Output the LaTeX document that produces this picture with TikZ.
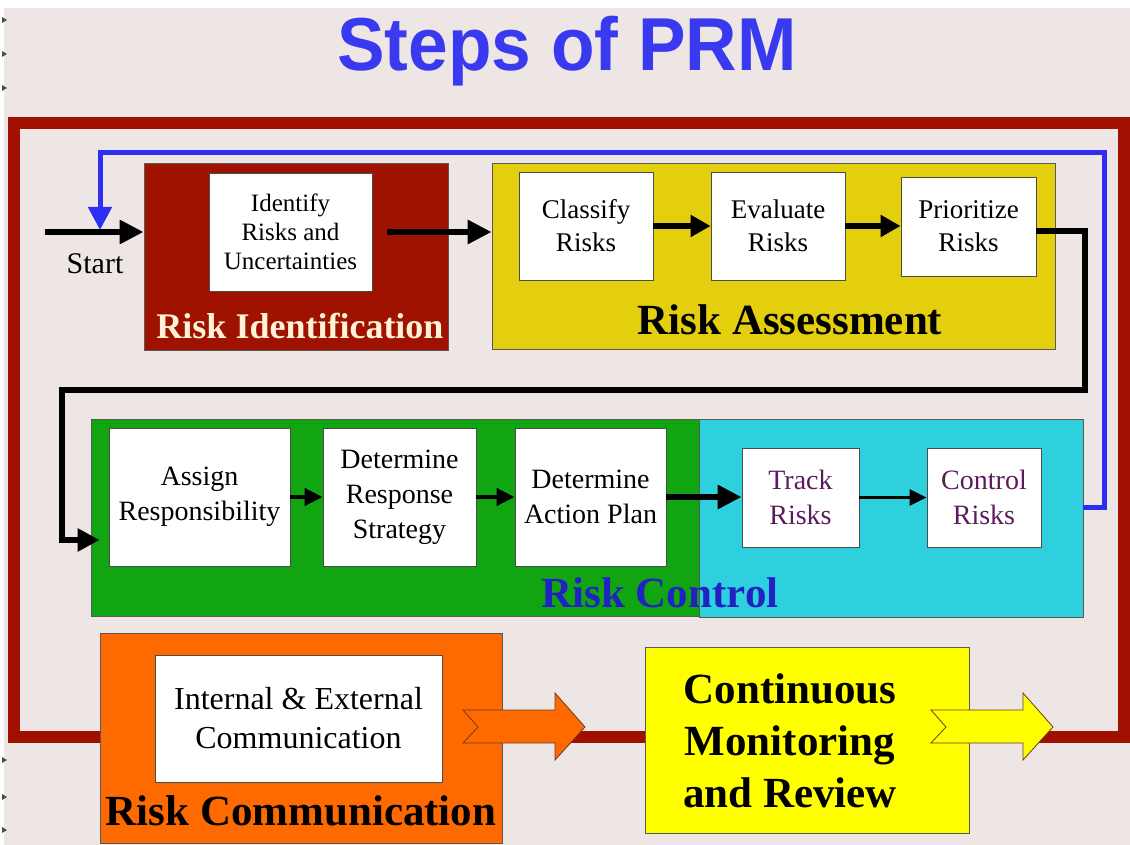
\documentclass[tikz,border=0pt]{standalone}
\usepackage{fontspec}
\setmainfont{Liberation Serif}
\newfontfamily\headfont{Liberation Sans}
\usetikzlibrary{arrows.meta}
\definecolor{slidebg}{HTML}{EEE6E4}
\definecolor{framered}{HTML}{A01000}
\definecolor{identred}{HTML}{A01200}
\definecolor{cream}{HTML}{FFF2D6}
\definecolor{assessgold}{HTML}{E3CF0E}
\definecolor{controlgreen}{HTML}{12A512}
\definecolor{trackcyan}{HTML}{2ED0DE}
\definecolor{commorange}{HTML}{FF6A00}
\definecolor{monyellow}{HTML}{FFFF00}
\definecolor{loopblue}{HTML}{2E2EF2}
\definecolor{titleblue}{HTML}{3939F0}
\definecolor{labelblue}{HTML}{2222C4}
\definecolor{trackpurple}{HTML}{5C1C5C}
\definecolor{arrowedge}{HTML}{6A3A20}

\begin{document}
\begin{tikzpicture}[x=1pt, y=-1pt,
  zone/.style={draw=black!65, line width=0.8pt, inner sep=0pt},
  card/.style={draw=black!70, fill=white, line width=0.8pt, inner sep=0pt, align=center},
  zonetitle/.style={font=\fontsize{43}{46}\selectfont\bfseries, anchor=base, inner sep=0pt},
  bigflow/.style={-{Triangle[length=24pt,width=23pt]}, line width=6pt},
  flow/.style={-{Triangle[length=20pt,width=21pt]}, line width=5.5pt},
  smallflow/.style={-{Triangle[length=18pt,width=17pt]}, line width=4pt},
  tinyflow/.style={-{Triangle[length=17pt,width=16pt]}, line width=3pt}]
\fill[white] (0,0) rectangle (1130,845);
\fill[slidebg] (4,8) rectangle (1130,845);
\useasboundingbox (0,0) rectangle (1130,845);
\foreach \y in {20,54,88,760,797,830}
\fill[black!70] (2,\y-3) -- (7,\y) -- (2,\y+3) -- cycle;

\node[font=\headfont\bfseries\fontsize{75}{80}\selectfont, text=titleblue, anchor=base, inner sep=0pt] (title) at (567,71) {\scalebox{0.95}[1]{Steps of PRM}};

% outer frame
\draw[framered, line width=12pt] (14,123) rectangle (1124,737);

% feedback loops
\coordinate (feedtop) at (1104,153);
\coordinate (feedin) at (100,230);
\coordinate (bendA) at (1085,390);
\coordinate (bendB) at (62,540);

% risk identification
\node[zone, fill=identred, minimum width=304pt, minimum height=187pt] (identzone) at (296,256.5) {};
\node[card, minimum width=163pt, minimum height=118pt, font=\fontsize{25}{29}\selectfont] (identify) at (290.5,232) {Identify\\Risks and\\Uncertainties};
\node[zonetitle, font=\fontsize{36}{40}\selectfont\bfseries, text=cream] (identlabel) at (300,338) {Risk Identification};

% risk assessment
\node[zone, fill=assessgold, minimum width=563pt, minimum height=186pt] (assesszone) at (773.5,256) {};
\node[card, minimum width=134pt, minimum height=108pt, font=\fontsize{27}{33}\selectfont] (classify) at (586,226) {Classify\\Risks};
\node[card, minimum width=134pt, minimum height=108pt, font=\fontsize{27}{33}\selectfont] (evaluate) at (778,226) {Evaluate\\Risks};
\node[card, minimum width=135pt, minimum height=99pt, font=\fontsize{27}{33}\selectfont] (prioritize) at (968.5,226.5) {Prioritize\\Risks};
\node[zonetitle] (assesslabel) at (790,334) {Risk Assessment};

% risk control
\node[zone, fill=controlgreen, minimum width=609pt, minimum height=197pt] (greenzone) at (395.5,517.5) {};
\node[zone, fill=trackcyan, minimum width=384pt, minimum height=198pt] (cyanzone) at (891,518) {};
\node[card, minimum width=181pt, minimum height=138pt, font=\fontsize{28}{35}\selectfont] (assign) at (199.5,497) {Assign\\Responsibility};
\node[card, minimum width=153pt, minimum height=138pt, font=\fontsize{28}{35}\selectfont] (response) at (399.5,497) {Determine\\Response\\Strategy};
\node[card, minimum width=151pt, minimum height=138pt, font=\fontsize{28}{35}\selectfont] (action) at (590.5,497) {Determine\\Action Plan};
\node[card, minimum width=117pt, minimum height=99pt, font=\fontsize{28}{35}\selectfont, text=trackpurple] (track) at (800.5,497.5) {Track\\Risks};
\node[card, minimum width=114pt, minimum height=99pt, font=\fontsize{28}{35}\selectfont, text=trackpurple] (control) at (984,497.5) {Control\\Risks};
\node[zonetitle, text=labelblue] (controllabel) at (660,607) {Risk Control};

% communication and monitoring
\node[zone, fill=commorange, minimum width=402pt, minimum height=210pt] (commzone) at (301,738) {};
\node[card, minimum width=287pt, minimum height=127pt, font=\fontsize{32}{39}\selectfont] (comm) at (298.5,718.5) {Internal \& External\\Communication};
\node[zonetitle] (commlabel) at (301,825) {Risk Communication};
\node[zone, fill=monyellow, minimum width=324pt, minimum height=186pt] (monitor) at (807,740) {};
\node[align=center, inner sep=0pt, font=\fontsize{43}{52}\selectfont\bfseries] (montext) at (790,741) {Continuous\\Monitoring\\and Review};

\foreach \x/\c in {463/commorange, 931/monyellow}
\draw[fill=\c, draw=arrowedge, line width=0.8pt] (\x,710) -- (\x+92,710) -- (\x+92,693) -- (\x+122,727) -- (\x+92,760) -- (\x+92,743) -- (\x,743) -- (\x+15,727) -- cycle;

% connectors
\draw[loopblue, line width=5pt, -{Triangle[length=23pt,width=23pt]}] ([yshift=11pt]cyanzone.east) -| (feedtop) -| (feedin);
\draw[line width=6pt, -{Triangle[length=22pt,width=22pt]}, shorten >=9pt] ([yshift=-5pt]prioritize.east) -| (bendA) -| (bendB) -- (bendB -| assign.west);
\coordinate (startpt) at (45,232);
\draw[bigflow] (startpt) -- (startpt -| identzone.west);
\node[font=\fontsize{30}{34}\selectfont, anchor=base, inner sep=0pt] (startlabel) at (95,273) {Start};
\draw[bigflow] ([xshift=15pt]identify.east) -- (identify.east -| assesszone.west);
\foreach \a/\b in {classify/evaluate, evaluate/prioritize}
\draw[flow] (\a.east) -- (\a.east -| \b.west);
\foreach \a/\b in {assign/response, response/action}
\draw[smallflow] (\a.east) -- (\a.east -| \b.west);
\draw[bigflow] (action.east) -- (action.east -| track.west);
\draw[tinyflow] (track) -- (control);
\end{tikzpicture}
\end{document}
